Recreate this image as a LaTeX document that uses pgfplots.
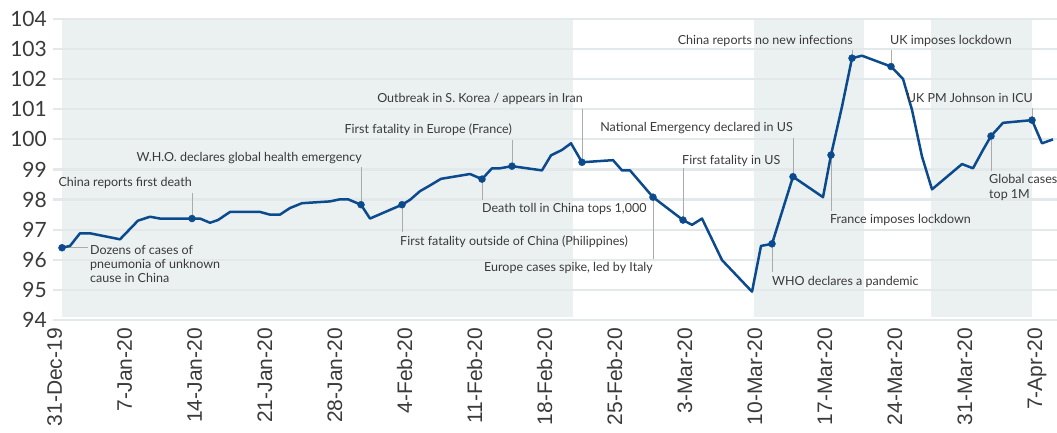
\documentclass[border=0pt]{standalone}
\usepackage{fontspec}
\setmainfont{Lato}
\newfontfamily\xfont{Liberation Sans}
\usepackage{pgfplots}
\pgfplotsset{compat=1.18}
\usetikzlibrary{calc}
\definecolor{lineblue}{HTML}{0B4A8C}
\definecolor{shade}{HTML}{EBF0F1}
\definecolor{gridc}{HTML}{E3E8EA}
\definecolor{txt}{HTML}{3A3A3A}
\definecolor{lead}{HTML}{ABABAB}
\tikzset{ann/.style={font=\fontsize{12.5}{14}\selectfont, text=txt, inner sep=0pt}}
\begin{document}
\begin{tikzpicture}
\begin{axis}[
  set layers,
  scale only axis, width=1004pt, height=301pt,
  xmin=-0.9, xmax=99.5, ymin=94, ymax=104,
  axis line style={draw=none},
  major tick length=0pt,
  clip=false,
  ytick={94,95,...,104},
  xtick={0,7,...,98},
  xticklabels={31-Dec-19,7-Jan-20,14-Jan-20,21-Jan-20,28-Jan-20,4-Feb-20,11-Feb-20,18-Feb-20,25-Feb-20,3-Mar-20,10-Mar-20,17-Mar-20,24-Mar-20,31-Mar-20,7-Apr-20},
  /pgf/number format/assume math mode=true,
  ymajorgrids, grid style={gridc, line width=2.2pt},
  yticklabel style={font=\fontsize{21}{21}\selectfont, text=txt, anchor=east, inner sep=0pt, xshift=-6pt},
  xticklabel style={font=\xfont\fontsize{21}{21}\selectfont, text=txt, rotate=90, anchor=base east, inner sep=0pt},
  xticklabel shift=8pt,
]
\addplot[on layer=axis background, fill=shade, draw=none, forget plot] coordinates {(0,94.1)(0,104)(51.1,104)(51.1,94.1)} -- cycle;
\addplot[on layer=axis background, fill=shade, draw=none, forget plot] coordinates {(69.2,94.1)(69.2,104)(80.2,104)(80.2,94.1)} -- cycle;
\addplot[on layer=axis background, fill=shade, draw=none, forget plot] coordinates {(86.9,94.1)(86.9,104)(97.0,104)(97.0,94.1)} -- cycle;

% leader lines
\addplot[lead, line width=0.9pt, forget plot] coordinates {(0,96.40)(2.6,96.40)};
\addplot[lead, line width=0.9pt, forget plot] coordinates {(13,98.22)(13,97.37)};
\addplot[lead, line width=0.9pt, forget plot] coordinates {(29.9,99.08)(29.9,97.83)};
\addplot[lead, line width=0.9pt, forget plot] coordinates {(34,97.83)(34,96.92)};
\addplot[lead, line width=0.9pt, forget plot] coordinates {(45,99.98)(45,99.11)};
\addplot[lead, line width=0.9pt, forget plot] coordinates {(42,98.68)(42,97.99)};
\addplot[lead, line width=0.9pt, forget plot] coordinates {(52,101.01)(52,99.24)};
\addplot[lead, line width=0.9pt, forget plot] coordinates {(59.1,98.08)(59.1,96.03)};
\addplot[lead, line width=0.9pt, forget plot] coordinates {(73.1,100.05)(73.1,98.76)};
\addplot[lead, line width=0.9pt, forget plot] coordinates {(62.1,99.05)(62.1,97.32)};
\addplot[lead, line width=0.9pt, forget plot] coordinates {(71,96.53)(71,95.59)};
\addplot[lead, line width=0.9pt, forget plot] coordinates {(76.9,99.48)(76.9,97.62)};
\addplot[lead, line width=0.9pt, forget plot] coordinates {(79,102.97)(79,102.70)};
\addplot[lead, line width=0.9pt, forget plot] coordinates {(82.9,102.97)(82.9,102.42)};
\addplot[lead, line width=0.9pt, forget plot] coordinates {(97,101.04)(97,100.64)};
\addplot[lead, line width=0.9pt, forget plot] coordinates {(92.9,100.11)(92.9,98.95)};

% main series
\addplot[lineblue, line width=2.5pt, line join=round] coordinates {
(0,96.40)(0.8,96.46)(1.8,96.88)(2.8,96.88)(5.8,96.68)(7.6,97.30)(8.8,97.43)(9.8,97.37)
(13,97.37)(13.8,97.37)(14.8,97.23)(15.6,97.32)(16.8,97.59)(19.8,97.59)(20.8,97.50)(21.8,97.50)
(22.8,97.72)(24,97.88)(26.8,97.94)(27.8,98.01)(28.6,98.01)(29.9,97.83)(30.8,97.37)(34,97.83)
(34.8,97.99)(35.8,98.28)(36.8,98.47)(37.9,98.69)(40.8,98.85)(42,98.68)(43,99.04)(43.8,99.04)
(45,99.11)(48,98.97)(48.9,99.47)(50,99.65)(50.9,99.87)(52,99.24)(55.1,99.31)(56,98.97)
(56.8,98.97)(59.1,98.08)(62.1,97.32)(63,97.16)(64,97.37)(66,95.99)(69,94.94)(69.9,96.46)
(71,96.53)(73.1,98.76)(76.1,98.08)(76.9,99.48)(78,101.09)(79,102.70)(80,102.78)(82.9,102.42)
(84.1,102.01)(85,100.98)(86,99.43)(87,98.34)(90,99.18)(91.1,99.04)(92.1,99.65)(92.9,100.11)
(94.1,100.55)(97,100.64)(98,99.87)(99.1,100.0)};

% event markers
\addplot[only marks, mark=*, mark size=3.5pt, lineblue] coordinates {
(0,96.40)(13,97.37)(29.9,97.83)(34,97.83)(42,98.68)(45,99.11)(52,99.24)(59.1,98.08)
(62.1,97.32)(71,96.53)(73.1,98.76)(76.9,99.48)(79,102.70)(82.9,102.42)(92.9,100.11)(97,100.64)};

% annotations
\node[ann, anchor=base east] at (axis cs:13.0,98.42) {China reports first death};
\node[ann, anchor=base west] at (axis cs:2.8,96.16) {Dozens of cases of};
\node[ann, anchor=base west] at (axis cs:2.8,95.70) {pneumonia of unknown};
\node[ann, anchor=base west] at (axis cs:2.8,95.23) {cause in China};
\node[ann, anchor=base east] at (axis cs:30.0,99.28) {W.H.O. declares global health emergency};
\node[ann, anchor=base west] at (axis cs:33.8,96.49) {First fatality outside of China (Philippines)};
\node[ann, anchor=base east] at (axis cs:45.0,100.18) {First fatality in Europe (France)};
\node[ann, anchor=base west] at (axis cs:42.0,97.555) {Death toll in China tops 1,000};
\node[ann, anchor=base east] at (axis cs:52.1,101.21) {Outbreak in S. Korea / appears in Iran};
\node[ann, anchor=base east] at (axis cs:59.1,95.595) {Europe cases spike, led by Italy};
\node[ann, anchor=base east] at (axis cs:73.1,100.246) {National Emergency declared in US};
\node[ann, anchor=base west] at (axis cs:62.0,99.18) {First fatality in US};
\node[ann, anchor=base west] at (axis cs:71.0,95.16) {WHO declares a pandemic};
\node[ann, anchor=base west] at (axis cs:76.8,97.19) {France imposes lockdown};
\node[ann, anchor=base east] at (axis cs:79.1,103.136) {China reports no new infections};
\node[ann, anchor=base west] at (axis cs:82.8,103.136) {UK imposes lockdown};
\node[ann, anchor=base east] at (axis cs:97.1,101.21) {UK PM Johnson in ICU};
\node[ann, anchor=base west] at (axis cs:92.7,98.52) {Global cases};
\node[ann, anchor=base west] at (axis cs:92.7,98.05) {top 1M};

\coordinate (bbsw) at (rel axis cs:0,0);
\coordinate (bbne) at (rel axis cs:1,1);
\end{axis}
\pgfresetboundingbox
\useasboundingbox ($(bbsw)+(-53pt,-113pt)$) rectangle ($(bbne)+(0pt,19pt)$);
\end{tikzpicture}
\end{document}
